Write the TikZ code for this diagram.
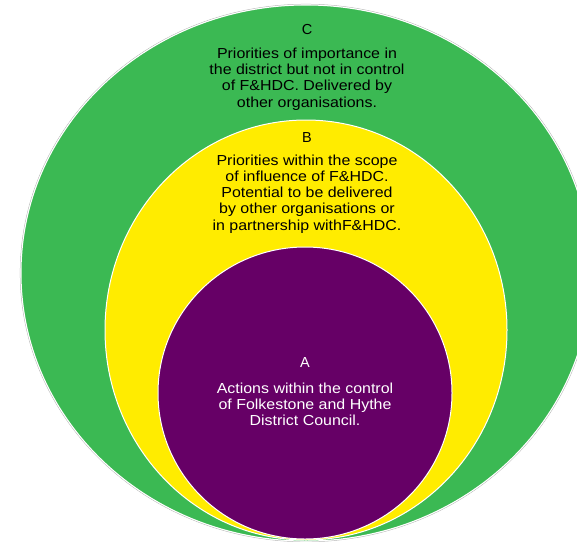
\documentclass[tikz,border=0pt]{standalone}
\usepackage{graphicx}
\usepackage{fontspec}
\setmainfont{Liberation Sans}
\definecolor{cgreen}{RGB}{59,185,83}
\definecolor{cyellow}{RGB}{255,236,0}
\definecolor{cpurple}{RGB}{102,0,102}
\newcommand\mylines[1]{\scalebox{1.1}[1]{\begin{tabular}{@{}c@{}}#1\end{tabular}}}
\begin{document}
\begin{tikzpicture}[x=1pt,y=-1pt,
  ring/.style={draw=white,line width=1pt},
  lbl/.style={align=center,font=\fontsize{14.5}{16.2}\selectfont,inner sep=0pt},
  head/.style={font=\fontsize{14.5}{16.2}\selectfont,inner sep=0pt}]
\clip (0,0) rectangle (577,541);
\fill[white] (0,0) rectangle (577,541);
\draw[gray!60,line width=0.5pt] (306,273) ellipse [x radius=285.8, y radius=268.8];
\draw[ring,fill=cgreen] (306,273) ellipse [x radius=285, y radius=268];
\draw[ring,fill=cyellow] (306,330) ellipse [x radius=201, y radius=210];
\draw[ring,fill=cpurple] (305,393) ellipse [x radius=147, y radius=146];
\node[head] (c) at (307,30) {C};
\node[lbl] (ct) at (307,79.5) {\mylines{Priorities of importance in\\the district but not in control\\of F\&HDC. Delivered by\\other organisations.}};
\node[head] (b) at (307,138) {B};
\node[lbl] (bt) at (307,194.5) {\mylines{Priorities within the scope\\of influence of F\&HDC.\\Potential to be delivered\\by other organisations or\\in partnership withF\&HDC.}};
\node[head,text=white] (a) at (305,362.5) {A};
\node[lbl,text=white] (at) at (305,406) {\mylines{Actions within the control\\of Folkestone and Hythe\\District Council.}};
\end{tikzpicture}
\end{document}
